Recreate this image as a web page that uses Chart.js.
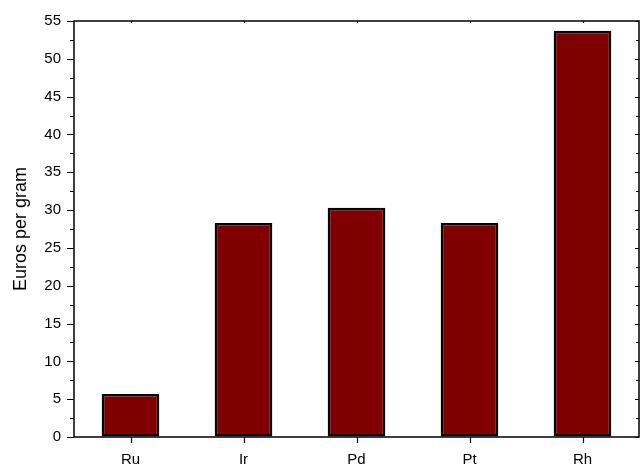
<!DOCTYPE html>
<html>
<head>
<meta charset="utf-8">
<script src="https://cdn.jsdelivr.net/npm/chart.js@4.4.1/dist/chart.umd.min.js"></script>
<style>
html,body{margin:0;padding:0;background:#fff;}
#wrap{width:640px;height:467px;position:relative;}
</style>
</head>
<body>
<div id="wrap"><canvas id="c" width="640" height="467"></canvas></div>
<script>
const categories = ['Ru', 'Ir', 'Pd', 'Pt', 'Rh'];
const prices = [5.7, 28.3, 30.3, 28.3, 53.7];
const yMin = 0, yMax = 55, yMajorStep = 5, yMinorStep = 2.5;
const yTitle = 'Euros per gram';

const framePlugin = {
  id: 'frame',
  afterDraw(chart) {
    const ctx = chart.ctx, a = chart.chartArea, y = chart.scales.y, x = chart.scales.x;
    ctx.save();
    ctx.strokeStyle = '#000';
    ctx.lineWidth = 1.5;
    ctx.beginPath();
    ctx.moveTo(a.left, a.bottom); ctx.lineTo(a.left, a.top); ctx.lineTo(a.right, a.top);
    ctx.lineTo(a.right, a.bottom); ctx.lineTo(a.left, a.bottom);
    ctx.stroke();
    ctx.lineWidth = 1.2;
    ctx.beginPath();
    for (let v = yMin; v <= yMax + 1e-9; v += yMinorStep) {
      const py = Math.round(y.getPixelForValue(v)) + 0.5;
      const major = Math.abs(v / yMajorStep - Math.round(v / yMajorStep)) < 1e-6;
      const len = major ? 7 : 4;
      ctx.moveTo(a.left - len, py); ctx.lineTo(a.left, py);
      ctx.moveTo(a.right, py); ctx.lineTo(a.right - (major ? 4 : 3), py);
    }
    categories.forEach((c, i) => {
      const px = Math.round(x.getPixelForValue(i)) + 0.5;
      ctx.moveTo(px, a.bottom); ctx.lineTo(px, a.bottom + 6);
      ctx.moveTo(px, a.top); ctx.lineTo(px, a.top + 2);
    });
    ctx.stroke();
    ctx.restore();
  }
};

new Chart(document.getElementById('c'), {
  type: 'bar',
  data: {
    labels: categories,
    datasets: [{
      data: prices,
      backgroundColor: '#800000',
      borderColor: '#000',
      borderWidth: 2.5,
      borderSkipped: false,
      barPercentage: 0.51,
      categoryPercentage: 1.0
    }]
  },
  options: {
    responsive: false,
    animation: false,
    layout: { padding: { top: 21, right: 1, left: 0, bottom: 0 } },
    plugins: { legend: { display: false }, tooltip: { enabled: false } },
    scales: {
      x: {
        grid: { display: true, drawOnChartArea: false, drawTicks: true, tickLength: 6, color: 'transparent' },
        border: { display: false },
        ticks: { color: '#000', padding: 8, font: { family: 'Liberation Sans, Arial', size: 15 } },
        afterFit(s) { s.height = 30; }
      },
      y: {
        min: yMin, max: yMax,
        grid: { display: true, drawOnChartArea: false, drawTicks: true, tickLength: 7, color: 'transparent' },
        border: { display: false },
        ticks: { stepSize: yMajorStep, color: '#000', padding: 6, font: { family: 'Liberation Sans, Arial', size: 15 } },
        title: { display: true, text: yTitle, color: '#000', font: { family: 'Liberation Sans, Arial', size: 18 }, padding: { top: 10, bottom: 0 } },
        afterFit(s) { s.width = 74; }
      }
    }
  },
  plugins: [framePlugin]
});
</script>
</body>
</html>
